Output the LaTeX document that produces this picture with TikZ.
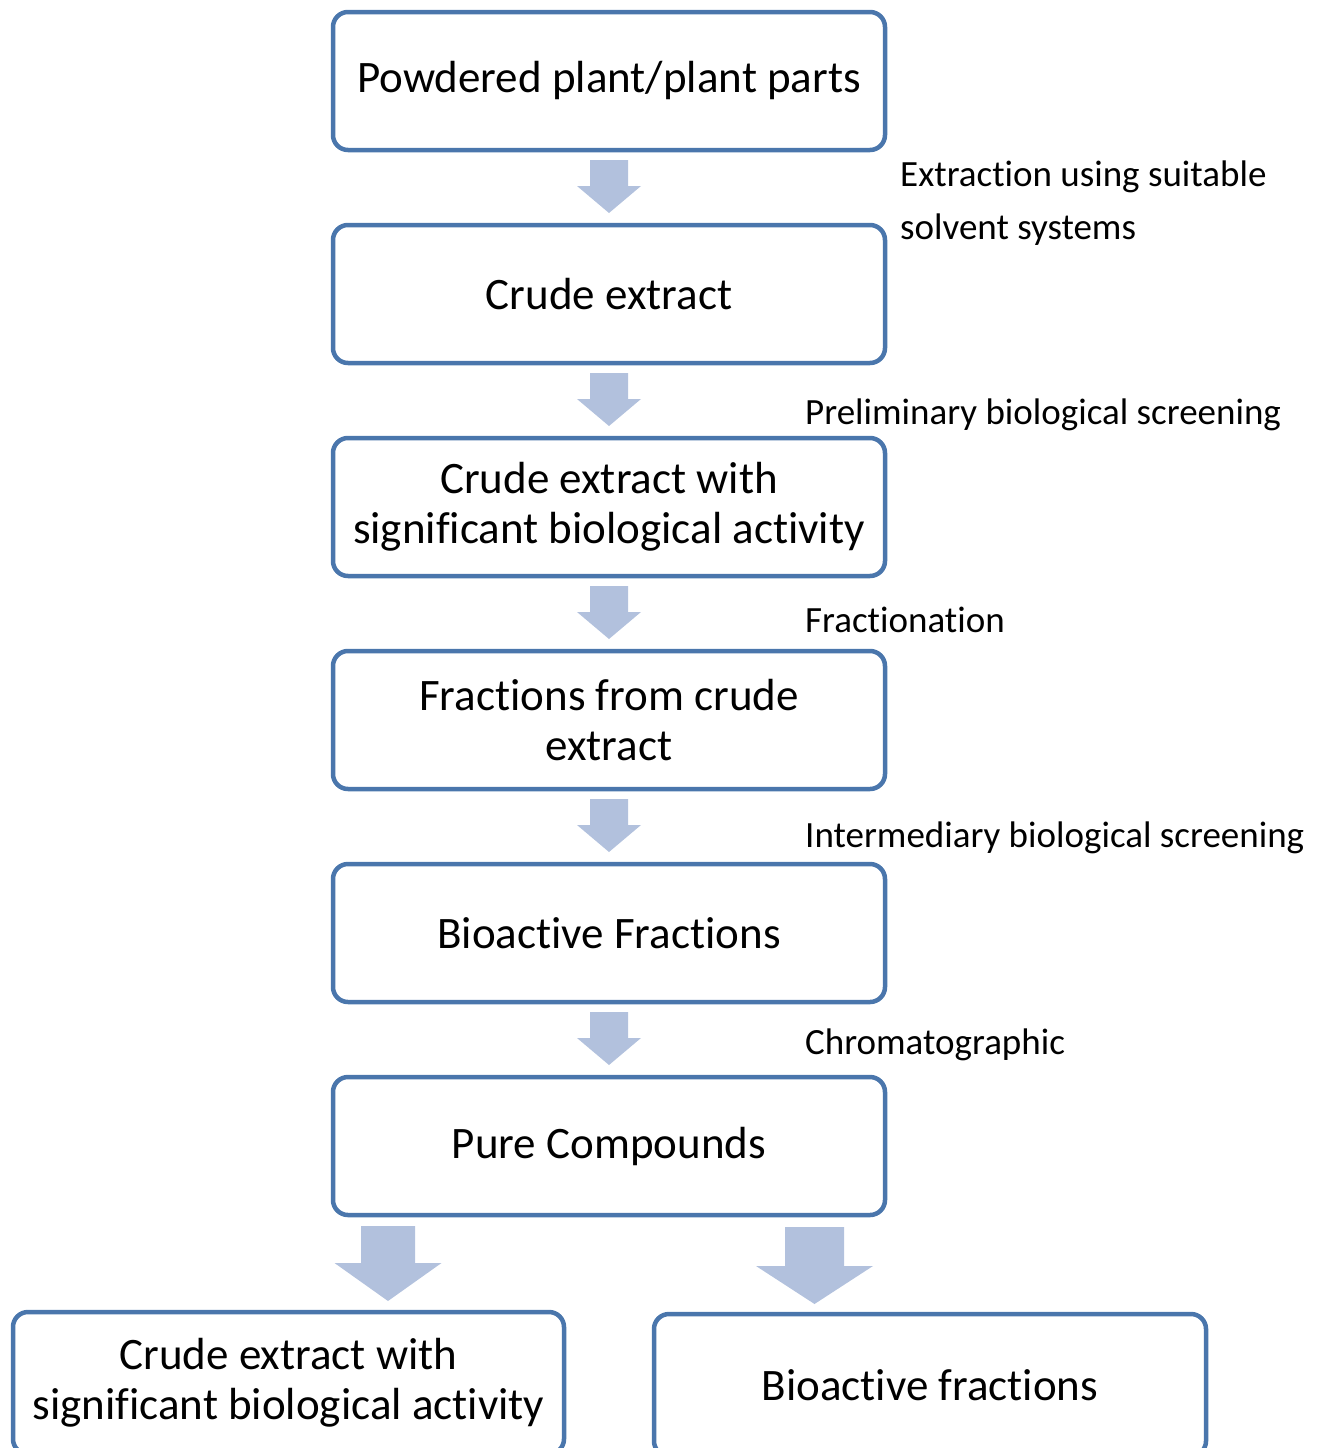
\documentclass[tikz,border=0pt]{standalone}
\usepackage{fontspec}
\setmainfont[RawFeature={-liga;-clig;-dlig}]{Carlito}
\usetikzlibrary{calc}
\definecolor{boxblue}{RGB}{74,118,172}
\definecolor{arrowblue}{RGB}{178,193,221}
% #1 start coordinate, #2 shaft half width, #3 head half width, #4 shaft length, #5 head length
\newcommand\flowarrow[5]{%
  \fill[arrowblue] ($(#1)+(-#2,0)$) -- ($(#1)+(#2,0)$) -- ($(#1)+(#2,#4)$) -- ($(#1)+(#3,#4)$)
    -- ($(#1)+(0,#4+#5)$) -- ($(#1)+(-#3,#4)$) -- ($(#1)+(-#2,#4)$) -- cycle;}
\tikzset{
  stage/.style={draw=boxblue, line width=4.5pt, rounded corners=15pt, fill=white,
    minimum width=552pt, minimum height=138pt, align=center, inner sep=0pt, outer sep=0pt,
    font=\fontsize{45}{50}\selectfont},
  note/.style={anchor=base west, inner sep=0pt, align=left, font=\fontsize{37}{53}\selectfont}
}
\begin{document}
\begin{tikzpicture}[x=1pt,y=-1pt]
\useasboundingbox (0,0) rectangle (1324,1448);
\clip (0,0) rectangle (1324,1448);
\node[stage] (b1) at (609,81) {Powdered plant/plant parts};
\node[stage] (b2) at (609,294) {Crude extract};
\node[stage] (b3) at (609,507) {Crude extract with\\significant biological activity};
\node[stage] (b4) at (609,720) {Fractions from crude\\extract};
\node[stage] (b5) at (609,933) {Bioactive Fractions};
\node[stage] (b6) at (609,1146) {Pure Compounds};
\node[stage, minimum width=551pt, minimum height=142pt] (bl) at (288.5,1383) {Crude extract with\\significant biological activity};
\node[stage, minimum height=142pt] (br) at (930,1385) {Bioactive fractions};
% arrows
\coordinate (a1) at ($(b1.south)+(0,10)$);
\coordinate (a2) at ($(b2.south)+(0,10)$);
\coordinate (a3) at ($(b3.south)+(0,10)$);
\coordinate (a4) at ($(b4.south)+(0,10)$);
\coordinate (a5) at ($(b5.south)+(0,10)$);
\coordinate (a6) at ($(b6.south)+(-221,11)$);
\coordinate (a7) at ($(b6.south)+(205.5,12)$);
\foreach \c in {a1,a2,a3,a4,a5} {\flowarrow{\c}{19}{32}{26}{27}}
\flowarrow{a6}{27}{53.5}{37}{38}
\flowarrow{a7}{29.5}{58.5}{39}{38}
% labels
\node[note] (l1) at (900,239) {Extraction using suitable\\solvent systems};
\node[note] (l2) at (805,424) {Preliminary biological screening};
\node[note] (l3) at (805,632) {Fractionation};
\node[note] (l4) at (805,847) {Intermediary biological screening};
\node[note] (l5) at (805,1054) {Chromatographic};
\end{tikzpicture}
\end{document}
